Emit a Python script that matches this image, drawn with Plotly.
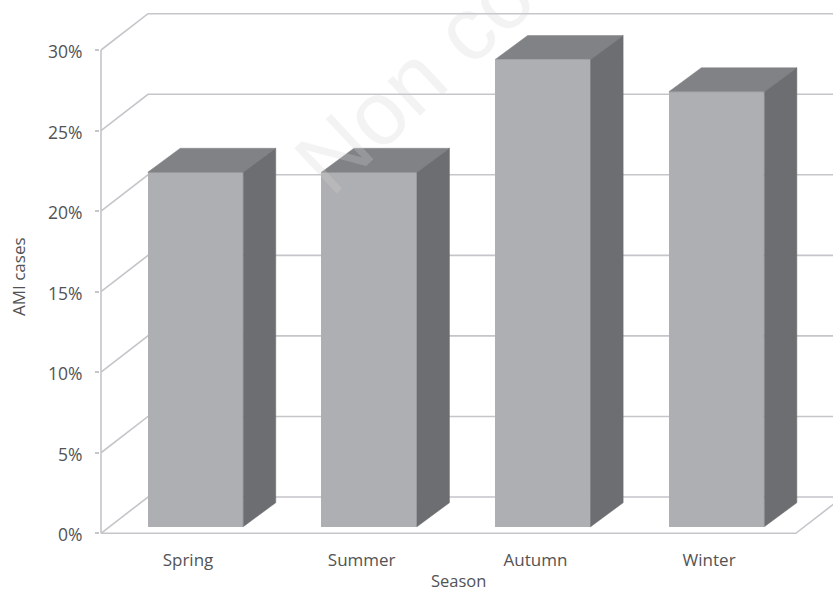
import plotly.graph_objects as go

# Data
SEASONS = ["Spring", "Summer", "Autumn", "Winter"]
AMI_PCT = [22, 22, 29, 27]
Y_TICKS = [0, 5, 10, 15, 20, 25, 30]
Y_LABELS = ["0%", "5%", "10%", "15%", "20%", "25%", "30%"]

# Pixel geometry of the imitation 3D scene, expressed in axis units
W, H = 833, 592
PX_X = 173.7      # px per category
PX_Y = 16.11      # px per percent
PLOT_L, PLOT_B = 100, 54
X0 = 188          # px of the first category in the front plane
ZERO = 533.3      # px of 0% in the front plane


def ux(px):
    return px / PX_X


def uy(px):
    return px / PX_Y


x_left = -ux(X0 - PLOT_L)
x_right = ux(W - X0)
y_bottom = -uy(H - PLOT_B - ZERO)
y_top = uy(ZERO)

WALL_DX, WALL_DY = ux(47), uy(36.3)
BAR_W = ux(95.5)
BAR_OFF_X, BAR_BASE = ux(7.5), uy(6.6)
BAR_DX, BAR_DY = ux(32.5), uy(24)
AXIS_X = -ux(87)

GRID = "#c5c5ca"
FRONT, TOP, SIDE = "#aeafb3", "#808285", "#6d6e71"
TEXT = "#525355"
FONT = "Open Sans"

shapes = []
for v in Y_TICKS:
    shapes.append(dict(
        type="path", layer="below", xref="x", yref="y",
        path=f"M {AXIS_X} {v} L {AXIS_X + WALL_DX} {v + WALL_DY} L {x_right} {v + WALL_DY}",
        line=dict(color=GRID, width=1.6),
    ))
shapes.append(dict(type="line", layer="below", xref="x", yref="y",
                   x0=AXIS_X, x1=AXIS_X, y0=0, y1=Y_TICKS[-1],
                   line=dict(color=GRID, width=1.6)))
n = len(SEASONS)
end = AXIS_X + n
shapes.append(dict(type="path", layer="below", xref="x", yref="y",
                   path=f"M {AXIS_X} 0 L {end} 0 L {end + WALL_DX} {WALL_DY}",
                   line=dict(color=GRID, width=1.6)))

xs = list(range(n))
fig = go.Figure()
fig.add_trace(go.Bar(
    x=[x + BAR_OFF_X for x in xs], y=AMI_PCT, base=BAR_BASE, width=BAR_W,
    marker=dict(color=FRONT, line=dict(width=0)), showlegend=False, hoverinfo="skip",
))
for x, val in zip(xs, AMI_PCT):
    l = x + BAR_OFF_X - BAR_W / 2
    r = l + BAR_W
    top = BAR_BASE + val
    fig.add_trace(go.Scatter(
        x=[l, r, r + BAR_DX, l + BAR_DX, l],
        y=[top, top, top + BAR_DY, top + BAR_DY, top],
        fill="toself", fillcolor=TOP, mode="lines", line=dict(color=TOP, width=0.5),
        showlegend=False, hoverinfo="skip",
    ))
    fig.add_trace(go.Scatter(
        x=[r, r, r + BAR_DX, r + BAR_DX, r],
        y=[BAR_BASE, top, top + BAR_DY, BAR_BASE + BAR_DY, BAR_BASE],
        fill="toself", fillcolor=SIDE, mode="lines", line=dict(color=SIDE, width=0.5),
        showlegend=False, hoverinfo="skip",
    ))

fig.update_layout(
    width=W, height=H, autosize=False,
    margin=dict(l=PLOT_L, r=0, t=0, b=PLOT_B, pad=0),
    paper_bgcolor="white", plot_bgcolor="white",
    font=dict(family=FONT, color=TEXT, size=17),
    bargap=0,
    shapes=shapes,
    xaxis=dict(range=[x_left, x_right], tickvals=xs, ticktext=SEASONS, showgrid=False,
               zeroline=False, showline=False, ticks="", ticklabelstandoff=10,
               tickfont=dict(size=17, family=FONT, color=TEXT)),
    yaxis=dict(range=[y_bottom, y_top], tickvals=Y_TICKS, ticktext=Y_LABELS, showgrid=False,
               zeroline=False, showline=False, ticks="outside", ticklen=4, tickwidth=1.5,
               tickcolor=GRID, ticklabelstandoff=9, ticklabelshift=2,
               tickfont=dict(size=17.5, family=FONT, color=TEXT)),
    annotations=[
        dict(text="AMI cases", xref="paper", yref="paper", xanchor="center", yanchor="middle",
             x=(18 - PLOT_L) / (W - PLOT_L), y=(H - PLOT_B - 277) / (H - PLOT_B),
             textangle=-90, showarrow=False, font=dict(size=17, family=FONT, color=TEXT)),
        dict(text="Season", xref="paper", yref="paper", xanchor="center", yanchor="middle",
             x=(458 - PLOT_L) / (W - PLOT_L), y=(H - PLOT_B - 580) / (H - PLOT_B),
             showarrow=False, font=dict(size=16.5, family=FONT, color=TEXT)),
        dict(text="Non co", xref="paper", yref="paper", xanchor="center", yanchor="middle",
             x=(414 - PLOT_L) / (W - PLOT_L), y=(H - PLOT_B - 79) / (H - PLOT_B),
             textangle=-43, showarrow=False,
             font=dict(size=90, family="Liberation Sans", color="rgba(211,211,211,0.27)")),
    ],
)
fig.write_html("out.html", config=dict(displayModeBar=False),
               post_script="document.body.style.margin='0';document.documentElement.style.overflow='hidden';")
